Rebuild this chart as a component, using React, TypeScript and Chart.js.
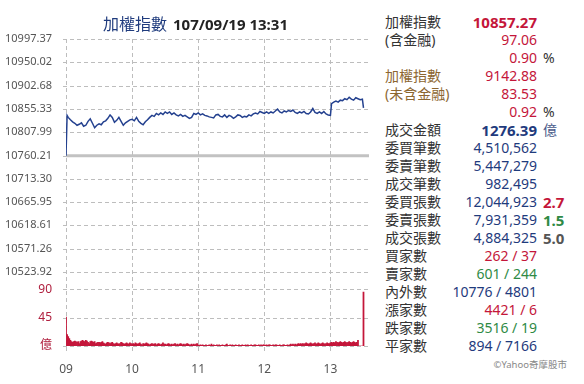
import React, { useEffect, useRef } from 'react';
import { Chart, registerables } from 'chart.js';

Chart.register(...registerables);

// ---------- chart data ----------
const titleName = '加權指數';
const titleStamp = '107/09/19 13:31';
const prevClose = 10760.21;
const priceTicks = [10523.92, 10571.26, 10618.61, 10665.95, 10713.3, 10760.21, 10807.99, 10855.33, 10902.68, 10950.02, 10997.37];
const hourTicks = [0, 60, 120, 180, 240];
const hourLabels = ['09', '10', '11', '12', '13'];
const volumeTicks = [0, 45, 90];
const volumeUnit = '億';

// minutes after 09:00
const priceMinutes = [
  0, 1, 2, 4, 6, 8, 10, 12, 14, 16, 18, 20, 22, 24, 26, 28, 30, 32, 34, 36, 38, 40, 42, 44, 46, 48, 50, 52, 54, 56, 58,
  60, 62, 64, 66, 68, 70, 72, 74, 76, 78, 80, 82, 84, 86, 88, 90, 92, 94, 96, 98, 100, 102, 104, 106, 108, 110, 112, 114, 116, 118,
  120, 122, 124, 126, 128, 130, 132, 134, 136, 138, 140, 142, 144, 146, 148, 150, 152, 154, 156, 158, 160, 162, 164, 166, 168, 170, 172, 174, 176, 178,
  180, 182, 184, 186, 188, 190, 192, 194, 196, 198, 200, 202, 204, 206, 208, 210, 212, 214, 216, 218, 220, 222, 224, 226, 228, 230, 232, 234, 236, 238,
  240, 241, 243, 245, 247, 249, 251, 253, 255, 257, 259, 261, 263, 265, 267, 269, 270,
];
const prices = [
  10760.21, 10842, 10838, 10833, 10829, 10826, 10822, 10824, 10827, 10820, 10822, 10830, 10835, 10826, 10817, 10822, 10825, 10823, 10829, 10831, 10836, 10843, 10838, 10828, 10832, 10838, 10830, 10822, 10827, 10830, 10833,
  10834, 10831, 10838, 10830, 10826, 10823, 10829, 10833, 10838, 10842, 10840, 10846, 10843, 10847, 10844, 10849, 10846, 10849, 10844, 10847, 10843, 10841, 10844, 10840, 10842, 10839, 10836, 10838, 10846, 10844,
  10847, 10843, 10845, 10842, 10841, 10839, 10838, 10837, 10843, 10844, 10840, 10839, 10843, 10838, 10842, 10840, 10836, 10839, 10843, 10842, 10838, 10840, 10839, 10843, 10841, 10845, 10847, 10845, 10850, 10848,
  10846, 10849, 10846, 10849, 10847, 10851, 10855, 10849, 10847, 10851, 10849, 10852, 10850, 10853, 10848, 10846, 10849, 10847, 10850, 10846, 10845, 10849, 10856, 10848, 10846, 10849, 10846, 10850, 10845, 10843,
  10842, 10866, 10869, 10871, 10869, 10873, 10872, 10876, 10874, 10879, 10875, 10873, 10878, 10876, 10874, 10875, 10857.27,
];

// traded value per minute (億), 09:00 .. 13:30
const volumes = [
  46, 18, 15, 12, 9, 7, 6, 7, 8, 7, 6, 7, 4, 7, 8, 9, 8, 7, 9, 8, 6, 4, 7, 8, 7, 6, 7, 4, 5, 6,
  6, 5, 6, 7, 5, 4, 3, 5, 6, 5, 4, 5, 6, 4, 3, 4, 5, 4, 3, 4, 6, 5, 4, 3, 4, 5, 4, 3, 5, 4,
  3, 4, 3, 5, 4, 3, 4, 5, 3, 2, 4, 3, 4, 5, 4, 3, 2, 3, 4, 3, 3, 4, 2, 3, 4, 3, 2, 3, 5, 3,
  3, 2, 3, 4, 3, 2, 3, 2, 3, 4, 2, 3, 2, 3, 4, 3, 2, 3, 2, 3, 4, 3, 2, 2, 3, 2, 3, 2, 3, 4,
  2, 1, 2, 1, 2, 1, 1, 2, 1, 1, 2, 1, 3, 1, 2, 1, 1, 2, 1, 2, 1, 1, 2, 1, 1, 2, 3, 1, 1, 2,
  1, 2, 1, 1, 2, 1, 1, 2, 1, 1, 2, 1, 1, 2, 1, 2, 1, 1, 2, 1, 1, 2, 2, 1, 1, 2, 1, 2, 1, 2,
  2, 1, 2, 1, 2, 2, 1, 1, 2, 1, 2, 2, 1, 1, 2, 1, 1, 2, 2, 1, 1, 2, 1, 2, 3, 2, 3, 2, 3, 2,
  3, 4, 3, 4, 3, 4, 3, 4, 5, 4, 3, 4, 5, 4, 3, 4, 5, 3, 4, 5, 4, 3, 4, 5, 4, 3, 4, 5, 4, 4,
  5, 6, 5, 6, 5, 7, 6, 5, 6, 7, 6, 5, 6, 7, 6, 5, 6, 7, 6, 5, 6, 7, 6, 5, 6, 9, 0, 0, 0, 0, 86,
];

// ---------- side panel data ----------
const panelLabels = ['加權指數', '(含金融)', '', '加權指數', '(未含金融)', '', '成交金額', '委買筆數', '委賣筆數', '成交筆數', '委買張數', '委賣張數', '成交張數', '買家數', '賣家數', '內外數', '漲家數', '跌家數', '平家數'];
const panelValues = ['10857.27', '97.06', '0.90', '9142.88', '83.53', '0.92', '1276.39', '4,510,562', '5,447,279', '982,495', '12,044,923', '7,931,359', '4,884,325', '262 / 37', '601 / 244', '10776 / 4801', '4421 / 6', '3516 / 19', '894 / 7166'];
const panelExtras = ['', '', '%', '', '', '%', '億', '', '', '', '2.7', '1.5', '5.0', '', '', '', '', '', ''];
const copyright = '©Yahoo奇摩股市';

// ---------- styles ----------
const RED = '#c4163a';
const NAVY = '#1f3b7d';
const GREEN = '#2f8a45';
const BROWN = '#8c6630';
const DARK = '#333333';
const labelColors = panelLabels.map((_, i) => (i === 3 || i === 4 ? BROWN : DARK));
const valueColors = [RED, RED, RED, RED, RED, RED, NAVY, NAVY, NAVY, NAVY, NAVY, NAVY, NAVY, RED, GREEN, NAVY, RED, GREEN, NAVY];
const extraColors = ['', '', DARK, '', '', DARK, '#4a5a8a', '', '', '', RED, GREEN, '#555555', '', '', '', '', '', ''];
const boldValues = [0, 6];
const boldExtras = [10, 11, 12];
const FONT = '"Noto Sans", "Noto Sans CJK TC", sans-serif';
const GRID = '#bdbdbd';

// dashed grid drawn from the scales' own tick positions, under the data
const dashedGrid = {
  id: 'dashedGrid',
  beforeDatasetsDraw(chart: any) {
    const { ctx, chartArea } = chart;
    const { left, right, top, bottom } = chartArea;
    ctx.save();
    ctx.fillStyle = GRID;
    const xs = chart.scales.x;
    for (const v of hourTicks) {
      const px = Math.round(xs.getPixelForValue(v));
      for (let y = top; y < bottom + 5; y += 7) ctx.fillRect(px, y, 1, Math.min(4, bottom + 5 - y));
    }
    const rows: number[] = [];
    for (const v of priceTicks) rows.push(Math.round(chart.scales.y.getPixelForValue(v)));
    for (const v of volumeTicks) rows.push(Math.round(chart.scales.vol.getPixelForValue(v)));
    for (const py of rows) {
      for (let x = left - 3; x < right; x += 7) ctx.fillRect(x, py, Math.min(4, right - x), 1);
    }
    ctx.restore();
  },
};

export default function App() {
  const ref = useRef<HTMLCanvasElement>(null);

  useEffect(() => {
    document.body.style.margin = '0';
    const canvas = ref.current;
    if (!canvas) return;
    const pricePts = priceMinutes.map((m, i) => ({ x: m, y: prices[i] }));
    const volPts = volumes.map((v, i) => ({ x: i, y: v }));
    const chart = new Chart(canvas, {
      data: {
        datasets: [
          { type: 'line', data: pricePts, yAxisID: 'y', borderColor: '#24418f', borderWidth: 1.5, pointRadius: 0, order: 1 },
          {
            type: 'line',
            data: [{ x: 0, y: prevClose }, { x: 275, y: prevClose }],
            yAxisID: 'y',
            borderColor: '#c2c2c2',
            borderWidth: 3,
            pointRadius: 0,
            order: 2,
          },
          {
            type: 'bar',
            data: volPts,
            yAxisID: 'vol',
            backgroundColor: RED,
            barPercentage: 1,
            categoryPercentage: 1,
            order: 3,
          },
        ],
      } as any,
      options: {
        responsive: false,
        animation: false,
        layout: { padding: { top: 39, right: 3, left: 0, bottom: 0 } },
        plugins: { legend: { display: false }, tooltip: { enabled: false } },
        scales: {
          x: {
            type: 'linear',
            offset: false,
            min: 0,
            max: 275,
            afterBuildTicks: (s: any) => {
              s.ticks = hourTicks.map((v) => ({ value: v }));
            },
            afterFit: (s: any) => {
              s.height = 38;
            },
            ticks: {
              callback: (v: any) => hourLabels[hourTicks.indexOf(Number(v))],
              color: '#555',
              font: { family: FONT, size: 12 },
              padding: 8,
              maxRotation: 0,
              autoSkip: false,
            },
            grid: { display: false, offset: false },
            border: { display: false },
          },
          vol: {
            type: 'linear',
            position: 'left',
            stack: 'main',
            stackWeight: 64.7,
            min: 0,
            max: 103.2,
            afterBuildTicks: (s: any) => {
              s.ticks = volumeTicks.map((v) => ({ value: v }));
            },
            afterFit: (s: any) => {
              s.width = 66;
            },
            ticks: {
              callback: (v: any) => (Number(v) === 0 ? volumeUnit : String(v)),
              color: '#b0203f',
              font: { family: FONT, size: 12 },
              padding: 6,
              autoSkip: false,
            },
            grid: { display: false },
            border: { display: false },
          },
          y: {
            type: 'linear',
            position: 'left',
            stack: 'main',
            stackWeight: 241.7,
            min: 10504.97,
            max: 10997.37,
            afterBuildTicks: (s: any) => {
              s.ticks = priceTicks.map((v) => ({ value: v }));
            },
            afterFit: (s: any) => {
              s.width = 66;
            },
            ticks: {
              callback: (v: any) => Number(v).toFixed(2),
              color: '#555',
              font: { family: FONT, size: 11 },
              padding: 6,
              autoSkip: false,
            },
            grid: { display: false },
            border: { display: false },
          },
        },
      } as any,
      plugins: [dashedGrid],
    });
    return () => chart.destroy();
  }, []);

  const rowTop = (i: number) => 13 + 18 * i;

  return (
    <div style={{ position: 'relative', width: 584, height: 384, background: '#fff', overflow: 'hidden', fontFamily: FONT }}>
      <canvas ref={ref} width={372} height={384} style={{ position: 'absolute', left: 0, top: 0, width: 372, height: 384 }} />
      <div style={{ position: 'absolute', left: 103, top: 14, lineHeight: '20px', whiteSpace: 'nowrap' }}>
        <span style={{ fontSize: 16, color: NAVY }}>{titleName}</span>
        <span style={{ fontSize: 15, fontWeight: 'bold', color: '#222', marginLeft: 6 }}>{titleStamp}</span>
      </div>
      {panelLabels.map((lab, i) => (
        <React.Fragment key={i}>
          {lab && (
            <div style={{ position: 'absolute', left: 385, top: rowTop(i), height: 18, lineHeight: '18px', fontSize: 14, color: labelColors[i], whiteSpace: 'nowrap' }}>
              {lab}
            </div>
          )}
          <div
            style={{
              position: 'absolute',
              right: 584 - 537,
              top: rowTop(i),
              height: 18,
              lineHeight: '18px',
              fontSize: boldValues.includes(i) ? 15 : 14,
              fontWeight: boldValues.includes(i) ? 'bold' : 'normal',
              color: valueColors[i],
              textAlign: 'right',
              whiteSpace: 'nowrap',
            }}
          >
            {panelValues[i]}
          </div>
          {panelExtras[i] && (
            <div
              style={{
                position: 'absolute',
                left: 543,
                top: rowTop(i),
                height: 18,
                lineHeight: '18px',
                fontSize: boldExtras.includes(i) ? 15 : 14,
                fontWeight: boldExtras.includes(i) ? 'bold' : 'normal',
                color: extraColors[i],
                whiteSpace: 'nowrap',
              }}
            >
              {panelExtras[i]}
            </div>
          )}
        </React.Fragment>
      ))}
      <div style={{ position: 'absolute', right: 17, top: 358, lineHeight: '14px', fontSize: 9.5, color: '#888', whiteSpace: 'nowrap' }}>{copyright}</div>
    </div>
  );
}
